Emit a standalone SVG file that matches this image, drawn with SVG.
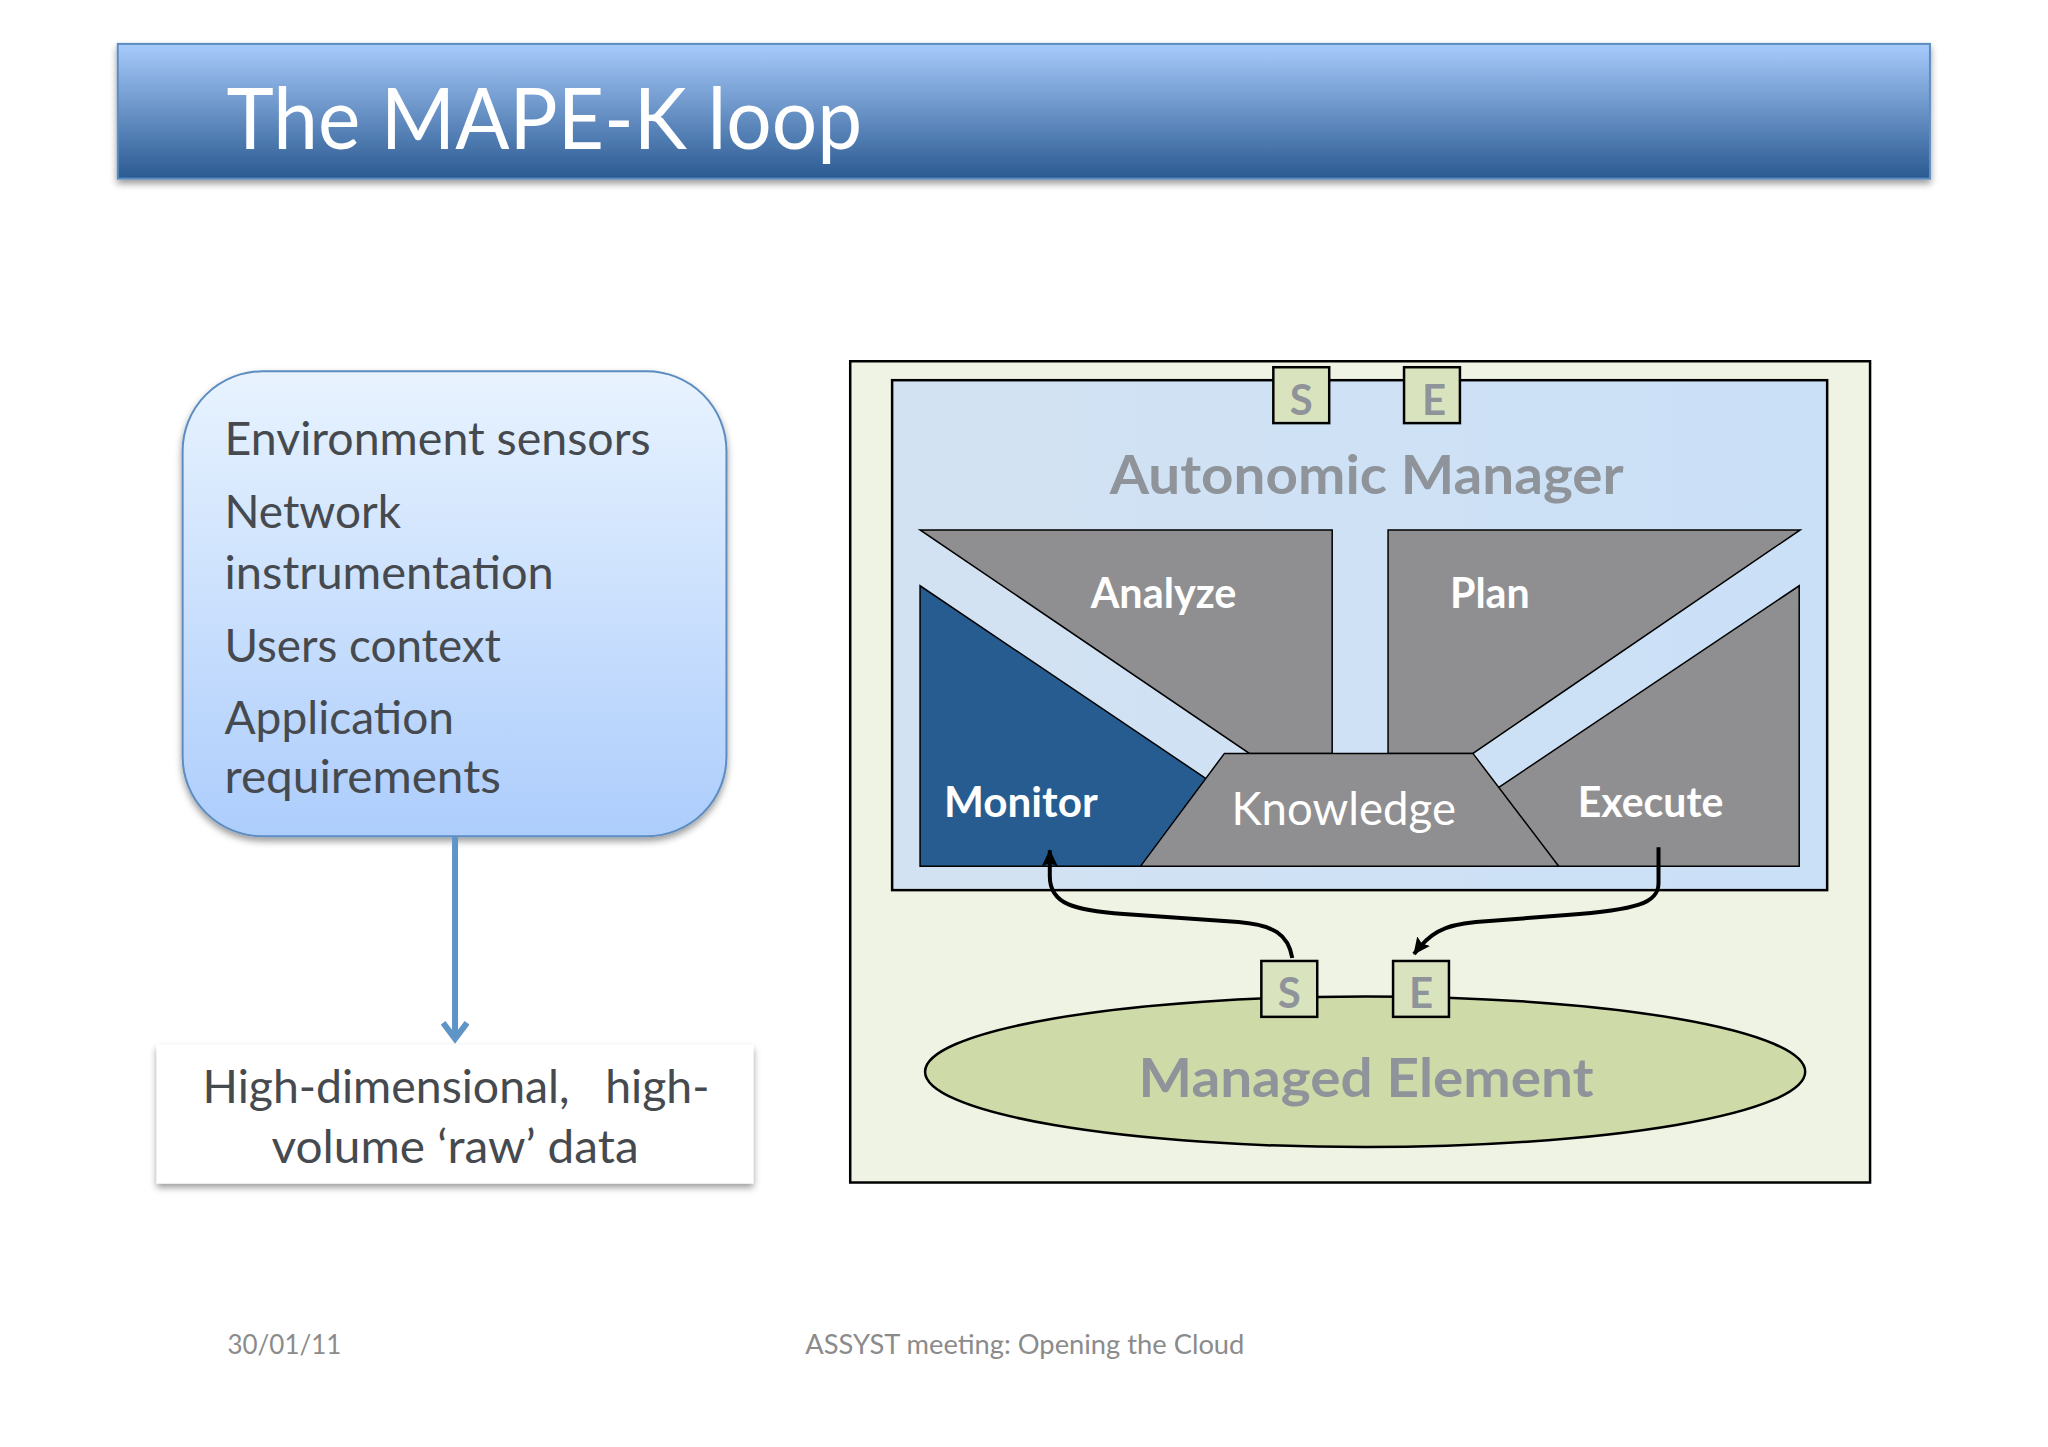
<svg xmlns="http://www.w3.org/2000/svg" width="2048" height="1447" viewBox="0 0 2048 1447">
<style>
text{font-family:Lato,"Open Sans",sans-serif}
.body{font-size:46px;fill:#464a4f}
.white{fill:#fff;font-weight:700;font-size:42px}
.grey{fill:#8f949a;font-weight:700}
.foot{font-size:27px;fill:#8b8b8b}
.box{fill:#d9e4bf;stroke:#000;stroke-width:2.5}
.se{fill:#8f949a;font-weight:700;font-size:42px;text-anchor:middle}
.shape{fill:#8f8f91;stroke:#000;stroke-width:1.5}
.curve{fill:none;stroke:#000;stroke-width:4;marker-end:url(#ah)}
</style>
<defs>
<linearGradient id="gt" x1="0" y1="0" x2="0" y2="1"><stop offset="0" stop-color="#a8cbfc"/><stop offset="1" stop-color="#2a5a91"/></linearGradient>
<linearGradient id="gb" x1="0" y1="0" x2="0" y2="1"><stop offset="0" stop-color="#e8f3fe"/><stop offset="1" stop-color="#adcdfc"/></linearGradient>
<linearGradient id="gm" x1="0" y1="0" x2="1" y2="0"><stop offset="0" stop-color="#d3e2f2"/><stop offset="1" stop-color="#cae0f7"/></linearGradient>
<filter id="sh" x="-5%" y="-5%" width="110%" height="115%"><feDropShadow dx="0" dy="4" stdDeviation="3.5" flood-color="#000" flood-opacity=".4"/></filter>
<marker id="ah" markerUnits="userSpaceOnUse" markerWidth="18" markerHeight="20" refX="16" refY="8" orient="auto"><path d="M0 0L17 8L0 16L3 8Z" fill="#000"/></marker>
<marker id="bh" markerUnits="userSpaceOnUse" markerWidth="26" markerHeight="28" refX="19" refY="14" orient="auto"><path d="M3 2L19 14L3 26" fill="none" stroke="#5f94c6" stroke-width="6"/></marker>
</defs>
<rect width="2048" height="1447" fill="#fff"/>
<g transform="scale(.9979)">
<g id="title">
<rect x="118" y="44" width="1816" height="135" fill="url(#gt)" stroke="#5b8cc0" stroke-width="2" filter="url(#sh)"/>
<text x="227" y="149" font-size="86" fill="#fff" textLength="637" lengthAdjust="spacingAndGlyphs">The MAPE-K loop</text>
</g>
<g id="sources">
<rect x="183" y="372" width="545" height="466" rx="80" fill="url(#gb)" stroke="#5b8cc0" stroke-width="2" filter="url(#sh)"/>
<text class="body" x="225" y="456" textLength="427" lengthAdjust="spacingAndGlyphs">Environment sensors</text>
<text class="body" x="225" y="529" textLength="177" lengthAdjust="spacingAndGlyphs">Network</text>
<text class="body" x="225" y="590" textLength="330" lengthAdjust="spacingAndGlyphs">instrumentation</text>
<text class="body" x="225" y="663" textLength="277" lengthAdjust="spacingAndGlyphs">Users context</text>
<text class="body" x="225" y="736" textLength="230" lengthAdjust="spacingAndGlyphs">Application</text>
<text class="body" x="225" y="795" textLength="277" lengthAdjust="spacingAndGlyphs">requirements</text>
</g>
<g id="rawdata">
<rect x="157" y="1047" width="598" height="139" fill="#fff" filter="url(#sh)"/>
<text class="body" x="203" y="1105" textLength="508" lengthAdjust="spacingAndGlyphs" xml:space="preserve">High-dimensional,   high-</text>
<text class="body" x="272" y="1165" textLength="368" lengthAdjust="spacingAndGlyphs">volume ‘raw’ data</text>
</g>
<g id="footer">
<text class="foot" x="228" y="1357" textLength="114" lengthAdjust="spacingAndGlyphs">30/01/11</text>
<text class="foot" x="807" y="1357" textLength="440" lengthAdjust="spacingAndGlyphs">ASSYST meeting: Opening the Cloud</text>
</g>
<rect id="outer" x="852" y="362" width="1022" height="823" fill="#eff3e4" stroke="#000" stroke-width="2.5"/>
<g id="autonomic-manager">
<rect x="894" y="381" width="937" height="511" fill="url(#gm)" stroke="#000" stroke-width="2.5"/>
<text class="grey" x="1112" y="495" font-size="54" textLength="515" lengthAdjust="spacingAndGlyphs">Autonomic Manager</text>
</g>
<g id="sensor-top"><rect class="box" x="1276" y="368" width="56" height="56"/><text class="se" x="1304" y="416">S</text></g>
<g id="effector-top"><rect class="box" x="1407" y="368" width="56" height="56"/><text class="se" x="1437" y="416">E</text></g>
<g id="analyze"><path class="shape" d="M922 531H1335V755H1252Z"/><text class="white" x="1093" y="609" textLength="146" lengthAdjust="spacingAndGlyphs">Analyze</text></g>
<g id="plan"><path class="shape" d="M1391 531H1804L1476 755H1391Z"/><text class="white" x="1453" y="609" textLength="80" lengthAdjust="spacingAndGlyphs">Plan</text></g>
<g id="monitor"><path d="M922 587V868H1143L1226 792Z" fill="#265c8f" stroke="#000" stroke-width="1.5"/><text class="white" x="946" y="819" textLength="154" lengthAdjust="spacingAndGlyphs">Monitor</text></g>
<g id="execute"><path class="shape" d="M1803 587V868H1562L1490 797Z"/><text class="white" x="1581" y="819" textLength="146" lengthAdjust="spacingAndGlyphs">Execute</text></g>
<g id="knowledge"><path class="shape" d="M1227 755H1476L1562 868H1143Z"/><text x="1234" y="827" font-size="46" fill="#fff" textLength="225" lengthAdjust="spacingAndGlyphs">Knowledge</text></g>
<g id="managed-element">
<ellipse cx="1368" cy="1074" rx="441" ry="75.5" fill="#cfdaa9" stroke="#000" stroke-width="2.5"/>
<text class="grey" x="1141" y="1099" font-size="54" textLength="456" lengthAdjust="spacingAndGlyphs">Managed Element</text>
</g>
<g id="sensor-bottom"><rect class="box" x="1264" y="963" width="56" height="56"/><text class="se" x="1292" y="1010">S</text></g>
<g id="effector-bottom"><rect class="box" x="1396" y="963" width="56" height="56"/><text class="se" x="1424" y="1010">E</text></g>
<g id="connectors">
<path d="M456 838V1041" fill="none" stroke="#5f94c6" stroke-width="6" marker-end="url(#bh)"/>
<path class="curve" d="M1295 960C1291 936 1276 927 1241 924L1126 916C1076 912 1052 906 1052 878V852"/>
<path class="curve" d="M1662 849V885C1662 905 1640 912 1570 917L1479 924C1445 927 1432 936 1417 956"/>
</g>
</g>
</svg>
